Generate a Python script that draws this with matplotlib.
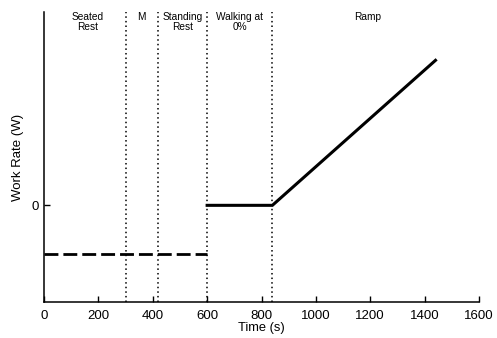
import matplotlib
matplotlib.use("Agg")
import matplotlib.pyplot as plt

# Data
rest_time = [0, 600]
rest_work = [-1, -1]
exercise_time = [600, 840, 1440]
exercise_work = [0, 0, 3]
phase_bounds = [300, 420, 600, 840]
phase_labels = ["Seated\nRest", "M", "Standing\nRest", "Walking at\n0%", "Ramp"]
phase_label_x = [160, 357, 510, 720, 1190]
x_ticks = [0, 200, 400, 600, 800, 1000, 1200, 1400, 1600]
y_ticks = [0]

plt.rcParams['font.family'] = ['Liberation Sans', 'DejaVu Sans']

fig = plt.figure(figsize=(4.97, 3.38), dpi=100)
ax = fig.add_axes([44/497, 1-302/338, (479-44)/497, (302-12)/338])

ax.plot(rest_time, rest_work, color='black', lw=2.0, ls=(0, (5, 1.8)))
ax.plot(exercise_time, exercise_work, color='black', lw=2.2, solid_joinstyle='miter')
for xb in phase_bounds:
    ax.axvline(xb, color='black', lw=1.1, ls=(0, (1, 2)))

for lx, lab in zip(phase_label_x, phase_labels):
    ax.text(lx, 4.0, lab, ha='center', va='top', fontsize=7.3, linespacing=0.95)

ax.set_xlim(0, 1600)
ax.set_ylim(-2, 4)
ax.set_xticks(x_ticks)
ax.set_yticks(y_ticks)
ax.tick_params(direction='in', length=4, width=1, labelsize=9.5)
ax.tick_params(axis='x', pad=5.5)
ax.tick_params(axis='y', pad=4)
for s in ['top', 'right']:
    ax.spines[s].set_visible(False)
for s in ['left', 'bottom']:
    ax.spines[s].set_linewidth(1.1)

ax.set_xlabel("Time (s)", fontsize=9.3, labelpad=0.5)
ax.set_ylabel("Work Rate (W)", fontsize=9.5, labelpad=5)

fig.savefig("out.png", dpi=100)
